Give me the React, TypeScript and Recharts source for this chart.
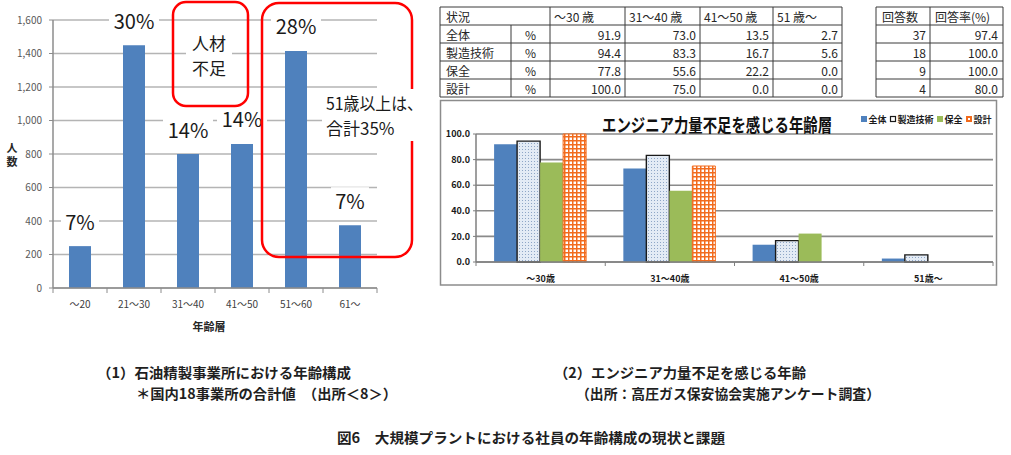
import React from 'react';
import { BarChart, Bar, XAxis, YAxis, CartesianGrid, LabelList } from 'recharts';

const FONT = "'Noto Sans CJK JP', 'Noto Sans', sans-serif";

// ---- (1) age composition chart ----
const ageGroups = ['～20', '21～30', '31～40', '41～50', '51～60', '61～'];
const headcounts = [250, 1450, 800, 860, 1415, 375];
const shareLabels = ['7%', '30%', '14%', '14%', '28%', '7%'];
const leftTicks = [0, 200, 400, 600, 800, 1000, 1200, 1400, 1600];

// ---- (2) survey chart / table ----
const surveyAges = ['～30歳', '31～40歳', '41～50歳', '51歳～'];
const tableAgeHeaders = ['～30 歳', '31～40 歳', '41～50 歳', '51 歳～'];
const seriesNames = ['全体', '製造技術', '保全', '設計'];
const overallValues = [91.9, 73.0, 13.5, 2.7];
const manufacturingValues = [94.4, 83.3, 16.7, 5.6];
const maintenanceValues = [77.8, 55.6, 22.2, 0.0];
const designValues = [100.0, 75.0, 0.0, 0.0];
const respondentCounts = [37, 18, 9, 4];
const responseRates = [97.4, 100.0, 100.0, 80.0];
const rightTicks = [0, 20, 40, 60, 80, 100];

const leftData = ageGroups.map((group, i) => ({ group, count: headcounts[i], share: shareLabels[i] }));
const rightData = surveyAges.map((age, i) => ({
  age,
  overall: overallValues[i],
  manufacturing: manufacturingValues[i],
  maintenance: maintenanceValues[i],
  design: designValues[i],
}));
const seriesValues = [overallValues, manufacturingValues, maintenanceValues, designValues];
const seriesKeys = ['overall', 'manufacturing', 'maintenance', 'design'];
const seriesFills = ['#4f81bd', 'url(#mfgDots)', '#9bbb59', 'url(#designGrid)'];
const seriesStrokes = [undefined, '#1a1a1a', undefined, '#f26b1d'];
const seriesStrokeWidths = [0, 1.4, 0, 1];

// layout constants
const L_W = 430, L_H = 340, L_M = { top: 20, right: 53, bottom: 22, left: 0 }, L_YW = 53;
const L_PLOT_W = L_W - L_M.right - L_M.left - L_YW;
const R_X = 440, R_Y = 100, R_W = 557, R_H = 185, R_M = { top: 34, right: 4, bottom: 3, left: 0 }, R_YW = 36;
const R_PLOT_W = R_W - R_M.right - R_M.left - R_YW;

const ShareLabel = (props: any) => {
  const vb = props.viewBox || props;
  const x = Number(props.x ?? vb.x);
  const y = Number(props.y ?? vb.y);
  const width = Number(props.width ?? vb.width);
  const value = String(props.value);
  const cx = x + width / 2;
  const cy = y - 25;
  const w = value.length * 12 + 14;
  return (
    <g>
      <rect x={cx - w / 2} y={cy - 13} width={w} height={26} fill="#ffffff" />
      <text x={cx} y={cy} textAnchor="middle" dominantBaseline="central" fontSize={20} fontFamily={FONT} fill="#1a1a1a">
        {value}
      </text>
    </g>
  );
};

const LeftTick = (props: any) => {
  const { x, y, payload, index } = props;
  const band = L_PLOT_W / ageGroups.length;
  return (
    <g>
      <line x1={x - band / 2} x2={x - band / 2} y1={y} y2={y + 5} stroke="#8c8c8c" strokeWidth={1} />
      {index === ageGroups.length - 1 && (
        <line x1={x + band / 2} x2={x + band / 2} y1={y} y2={y + 5} stroke="#8c8c8c" strokeWidth={1} />
      )}
      <text x={x} y={y + 15} textAnchor="middle" dominantBaseline="central" fontSize={10} fontFamily={FONT} fill="#404040">
        {payload.value}
      </text>
    </g>
  );
};

const RightTick = (props: any) => {
  const { x, y, payload, index } = props;
  const band = R_PLOT_W / surveyAges.length;
  return (
    <g>
      <line x1={x - band / 2} x2={x - band / 2} y1={y} y2={y + 4} stroke="#7f7f7f" strokeWidth={1} />
      {index === surveyAges.length - 1 && (
        <line x1={x + band / 2} x2={x + band / 2} y1={y} y2={y + 4} stroke="#7f7f7f" strokeWidth={1} />
      )}
      <text x={x} y={y + 16} textAnchor="middle" dominantBaseline="central" fontSize={9} fontWeight={700} fontFamily={FONT} fill="#1a1a1a">
        {payload.value}
      </text>
    </g>
  );
};

// table geometry (style constants)
const T1_COLS = [440, 511, 550, 625, 700, 773, 842];
const T2_COLS = [876, 930, 1003];
const T_ROWS = [7, 25, 43, 61, 79, 97];

const Tables = () => {
  const lines: React.ReactNode[] = [];
  const texts: React.ReactNode[] = [];
  const stroke = '#3a3a3a';
  T_ROWS.forEach((ry, i) => {
    lines.push(<line key={`h1${i}`} x1={T1_COLS[0]} x2={T1_COLS[T1_COLS.length - 1]} y1={ry} y2={ry} stroke={stroke} strokeWidth={1} />);
    lines.push(<line key={`h2${i}`} x1={T2_COLS[0]} x2={T2_COLS[T2_COLS.length - 1]} y1={ry} y2={ry} stroke={stroke} strokeWidth={1} />);
  });
  T1_COLS.forEach((cx, i) => {
    const top = i === 1 ? T_ROWS[1] : T_ROWS[0];
    lines.push(<line key={`v1${i}`} x1={cx} x2={cx} y1={top} y2={T_ROWS[T_ROWS.length - 1]} stroke={stroke} strokeWidth={1} />);
  });
  T2_COLS.forEach((cx, i) => {
    lines.push(<line key={`v2${i}`} x1={cx} x2={cx} y1={T_ROWS[0]} y2={T_ROWS[T_ROWS.length - 1]} stroke={stroke} strokeWidth={1} />);
  });
  const mid = (r: number) => (T_ROWS[r] + T_ROWS[r + 1]) / 2 + 0.5;
  const tp = { fontSize: 12, fontFamily: FONT, fill: '#262626', dominantBaseline: 'central' as const };
  texts.push(<text key="hd0" x={T1_COLS[0] + 6} y={mid(0)} {...tp}>状況</text>);
  tableAgeHeaders.forEach((h, j) => {
    texts.push(<text key={`hd${j + 1}`} x={T1_COLS[j + 2] + 4} y={mid(0)} {...tp}>{h}</text>);
  });
  texts.push(<text key="t2h0" x={T2_COLS[0] + 6} y={mid(0)} {...tp}>回答数</text>);
  texts.push(<text key="t2h1" x={T2_COLS[1] + 5} y={mid(0)} {...tp}>回答率(%)</text>);
  seriesNames.forEach((name, i) => {
    const r = i + 1;
    texts.push(<text key={`rn${i}`} x={T1_COLS[0] + 6} y={mid(r)} {...tp}>{name}</text>);
    texts.push(<text key={`rp${i}`} x={(T1_COLS[1] + T1_COLS[2]) / 2} y={mid(r)} textAnchor="middle" {...tp}>%</text>);
    seriesValues[i].forEach((v, j) => {
      texts.push(<text key={`rv${i}${j}`} x={T1_COLS[j + 3] - 4} y={mid(r)} textAnchor="end" {...tp}>{v.toFixed(1)}</text>);
    });
    texts.push(<text key={`rc${i}`} x={T2_COLS[1] - 4} y={mid(r)} textAnchor="end" {...tp}>{respondentCounts[i]}</text>);
    texts.push(<text key={`rr${i}`} x={T2_COLS[2] - 5} y={mid(r)} textAnchor="end" {...tp}>{responseRates[i].toFixed(1)}</text>);
  });
  return <g>{lines}{texts}</g>;
};

const legendX = [861, 890, 937, 966];

const Legend2 = () => (
  <g>
    {seriesNames.map((name, i) => {
      const x = legendX[i];
      let marker: React.ReactNode;
      if (i === 1) marker = <rect x={x + 0.5} y={116.5} width={5} height={5} fill="#ffffff" stroke="#1a1a1a" strokeWidth={1.2} />;
      else if (i === 3) marker = <g><rect x={x} y={116} width={6} height={6} fill="#f26b1d" /><rect x={x + 2} y={118} width={2} height={2} fill="#ffffff" /></g>;
      else marker = <rect x={x} y={116} width={6} height={6} fill={seriesFills[i]} />;
      return (
        <g key={name}>
          {marker}
          <text x={x + 7.5} y={119.5} dominantBaseline="central" fontSize={9} fontWeight={700} fontFamily={FONT} fill="#1a1a1a">
            {name}
          </text>
        </g>
      );
    })}
  </g>
);

const Overlay = () => {
  const cap = { fontSize: 14, fontWeight: 700, fontFamily: FONT, fill: '#1f1f1f', dominantBaseline: 'central' as const, lengthAdjust: 'spacingAndGlyphs' };
  return (
    <svg width={1011} height={455} style={{ position: 'absolute', left: 0, top: 0, pointerEvents: 'none' }}>
      <defs>
        <pattern id="mfgDots" width={3} height={3} patternUnits="userSpaceOnUse">
          <rect width={3} height={3} fill="#e3ebf5" />
          <rect x={1} y={1} width={1} height={1} fill="#8ea6c6" />
        </pattern>
        <pattern id="designGrid" width={4} height={4} patternUnits="userSpaceOnUse">
          <rect width={4} height={4} fill="#f26b1d" />
          <rect x={1.5} y={1.5} width={2.5} height={2.5} fill="#ffffff" />
        </pattern>
      </defs>

      {/* annotations on chart (1) */}
      <rect x={173} y={2} width={75} height={104} rx={13} fill="none" stroke="#ff0000" strokeWidth={2.5} />
      <rect x={262} y={3} width={150} height={254} rx={17} fill="none" stroke="#ff0000" strokeWidth={2.5} />
      <rect x={186} y={30} width={46} height={49} fill="#ffffff" />
      <text textAnchor="middle" dominantBaseline="central" fontSize={17} fontFamily={FONT} fill="#1a1a1a">
        <tspan x={209} y={42}>人材</tspan>
        <tspan x={209} y={67}>不足</tspan>
      </text>
      <rect x={322} y={89} width={106} height={52} fill="#ffffff" />
      <text dominantBaseline="central" fontSize={17} fontFamily={FONT} fill="#1a1a1a">
        <tspan x={326} y={102} textLength={97} lengthAdjust="spacingAndGlyphs">51歳以上は、</tspan>
        <tspan x={326} y={127}>合計35%</tspan>
      </text>
      <text textAnchor="middle" dominantBaseline="central" fontSize={11} fontWeight={700} fontFamily={FONT} fill="#262626">
        <tspan x={12} y={147}>人</tspan>
        <tspan x={12} y={161}>数</tspan>
      </text>
      <text x={209} y={326} textAnchor="middle" dominantBaseline="central" fontSize={11} fontWeight={700} fontFamily={FONT} fill="#262626">年齢層</text>

      {/* tables */}
      <Tables />

      {/* chart (2) frame, title, legend */}
      <rect x={440.5} y={100.5} width={556} height={184.5} fill="none" stroke="#8c8c8c" strokeWidth={1.5} />
      <g transform="translate(602,124) scale(1,1.28)">
        <text x={0} y={0} dominantBaseline="central" fontSize={14.4} fontWeight={700} fontFamily={FONT} fill="#111">
          エンジニア力量不足を感じる年齢層
        </text>
      </g>
      <Legend2 />

      {/* captions */}
      <text x={97} y={372} {...cap} textLength={254}>（1）石油精製事業所における年齢構成</text>
      <text x={136} y={393} {...cap} textLength={261}>＊国内18事業所の合計値　（出所＜8＞）</text>
      <text x={554} y={372} {...cap} textLength={252}>（2）エンジニア力量不足を感じる年齢</text>
      <text x={576} y={393} {...cap} textLength={304}>（出所：高圧ガス保安協会実施アンケート調査）</text>
      <text x={337} y={437} {...cap} textLength={388}>図6　大規模プラントにおける社員の年齢構成の現状と課題</text>
    </svg>
  );
};

export default function App() {
  return (
    <div style={{ position: 'absolute', left: 0, top: 0, width: 1011, height: 455, background: '#ffffff', overflow: 'hidden', fontFamily: FONT }}>
      <div style={{ position: 'absolute', left: 0, top: 0 }}>
        <BarChart width={L_W} height={L_H} data={leftData} margin={L_M} barCategoryGap="30%">
          <CartesianGrid vertical={false} stroke="#b4b4b4" strokeWidth={1.5} />
          <XAxis
            dataKey="group"
            height={30}
            interval={0}
            tickLine={false}
            tickSize={0}
            tickMargin={0}
            tick={LeftTick}
            axisLine={{ stroke: '#8c8c8c', strokeWidth: 1.5 }}
          />
          <YAxis
            width={L_YW}
            domain={[0, 1600]}
            ticks={leftTicks}
            interval={0}
            tickFormatter={(v: number) => v.toLocaleString('en-US')}
            tickSize={4}
            tickMargin={7}
            tick={{ fontSize: 10, fill: '#595959', fontFamily: FONT }}
            axisLine={{ stroke: '#8c8c8c', strokeWidth: 1.5 }}
            tickLine={{ stroke: '#8c8c8c' }}
          />
          <Bar dataKey="count" fill="#4f81bd" barSize={22} isAnimationActive={false}>
            <LabelList dataKey="share" content={ShareLabel} />
          </Bar>
        </BarChart>
      </div>

      <div style={{ position: 'absolute', left: R_X, top: R_Y }}>
        <BarChart width={R_W} height={R_H} data={rightData} margin={R_M} barCategoryGap="14%" barGap={0}>
          <CartesianGrid vertical={false} stroke="#8a8a8a" strokeWidth={1.6} />
          <XAxis
            dataKey="age"
            height={20}
            interval={0}
            tickLine={false}
            tickSize={0}
            tickMargin={0}
            tick={RightTick}
            axisLine={{ stroke: '#7f7f7f', strokeWidth: 1.5 }}
          />
          <YAxis
            width={R_YW}
            domain={[0, 100]}
            ticks={rightTicks}
            interval={0}
            tickFormatter={(v: number) => v.toFixed(1)}
            tickSize={3}
            tickMargin={3}
            tick={{ fontSize: 9, fontWeight: 700, fill: '#1a1a1a', fontFamily: FONT }}
            axisLine={{ stroke: '#7f7f7f', strokeWidth: 1.5 }}
            tickLine={{ stroke: '#7f7f7f' }}
          />
          {seriesKeys.map((k, i) => (
            <Bar
              key={k}
              dataKey={k}
              name={seriesNames[i]}
              fill={seriesFills[i]}
              stroke={seriesStrokes[i]}
              strokeWidth={seriesStrokeWidths[i]}
              isAnimationActive={false}
            />
          ))}
        </BarChart>
      </div>

      <Overlay />
    </div>
  );
}
